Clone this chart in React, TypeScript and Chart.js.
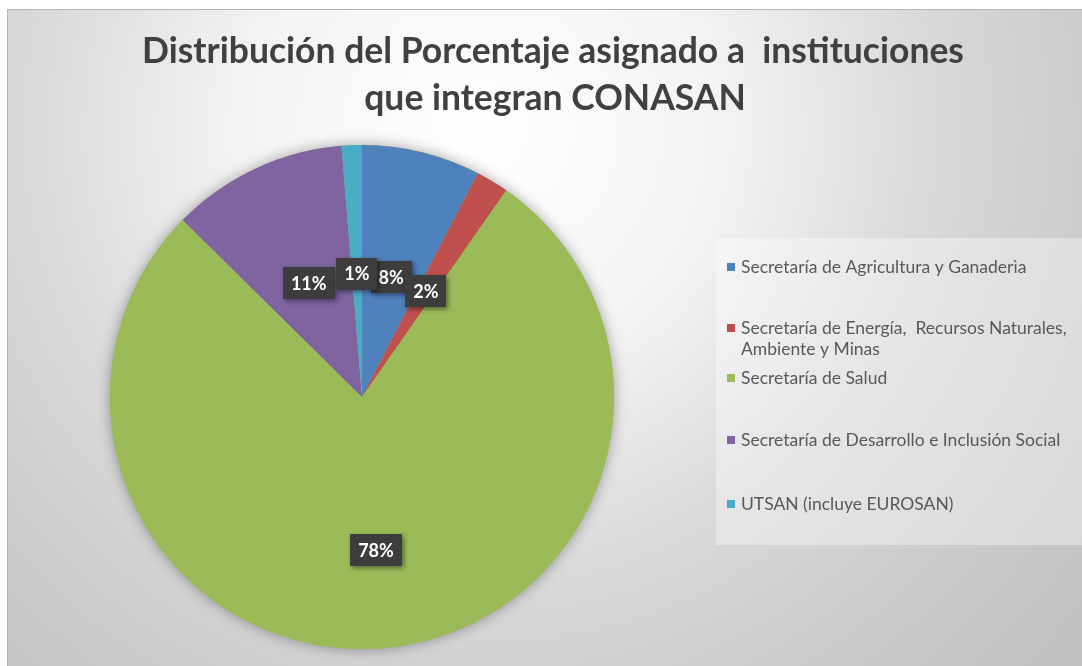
import React, { useEffect, useRef } from "react";
import { Chart, registerables } from "chart.js";

Chart.register(...registerables);

const titleLines = ["Distribución del Porcentaje asignado a  instituciones", "que integran CONASAN"];
const categories = [
  "Secretaría de Agricultura y Ganaderìa",
  "Secretaría de Energía,  Recursos Naturales, Ambiente y Minas",
  "Secretaría de Salud",
  "Secretaría de Desarrollo e Inclusión Social",
  "UTSAN (incluye EUROSAN)",
];
const values = [7.6, 2.1, 77.7, 11.3, 1.3];
const colors = ["#4F81BD", "#C0504D", "#9BBB59", "#8064A2", "#4BACC6"];

const W = 1082;
const H = 666;

function wrapText(ctx: CanvasRenderingContext2D, text: string, maxW: number): string[] {
  const words = text.split(" ");
  const lines: string[] = [];
  let cur = "";
  for (let i = 0; i < words.length; i++) {
    const test = cur === "" ? words[i] : cur + " " + words[i];
    if (ctx.measureText(test).width > maxW && cur !== "") {
      lines.push(cur);
      cur = words[i];
    } else {
      cur = test;
    }
  }
  if (cur !== "") lines.push(cur);
  return lines;
}

const decorPlugin = {
  id: "decor",
  beforeDraw(chart: any) {
    const ctx: CanvasRenderingContext2D = chart.ctx;
    ctx.save();
    ctx.fillStyle = "#ffffff";
    ctx.fillRect(0, 0, W, H);
    const g = ctx.createRadialGradient(480, 130, 0, 480, 130, 800);
    g.addColorStop(0, "#ffffff");
    g.addColorStop(0.3, "#f3f3f3");
    g.addColorStop(0.55, "#dadada");
    g.addColorStop(0.8, "#cacaca");
    g.addColorStop(1, "#c0c0c0");
    ctx.fillStyle = g;
    ctx.fillRect(7, 9, W - 7, H - 9);
    ctx.strokeStyle = "#b4b4b4";
    ctx.lineWidth = 1;
    ctx.beginPath();
    ctx.moveTo(7.5, H);
    ctx.lineTo(7.5, 9.5);
    ctx.lineTo(W, 9.5);
    ctx.stroke();
    // title
    ctx.fillStyle = "#404040";
    ctx.font = "bold 35.5px Lato, 'Open Sans', sans-serif";
    ctx.textAlign = "center";
    ctx.textBaseline = "alphabetic";
    ctx.fillText(titleLines[0], 553, 63);
    ctx.fillText(titleLines[1], 555, 110);
    ctx.restore();
  },
  beforeDatasetsDraw(chart: any) {
    const meta = chart.getDatasetMeta(0);
    const arc = meta.data[0];
    if (!arc) return;
    const ctx: CanvasRenderingContext2D = chart.ctx;
    ctx.save();
    ctx.shadowColor = "rgba(0,0,0,0.35)";
    ctx.shadowBlur = 14;
    ctx.fillStyle = "#9BBB59";
    ctx.beginPath();
    ctx.arc(arc.x, arc.y, arc.outerRadius, 0, Math.PI * 2);
    ctx.fill();
    ctx.restore();
  },
  afterDatasetsDraw(chart: any, _args: any, opts: any) {
    const ctx: CanvasRenderingContext2D = chart.ctx;
    const meta = chart.getDatasetMeta(0);
    const data: number[] = chart.data.datasets[0].data;
    const total = data.reduce((a, b) => a + b, 0);
    const radii: number[] = opts.labelRadius || [];
    ctx.save();
    ctx.font = "bold 18px Lato, 'Open Sans', sans-serif";
    ctx.textAlign = "center";
    ctx.textBaseline = "middle";
    meta.data.forEach((el: any, i: number) => {
      const mid = (el.startAngle + el.endAngle) / 2;
      const r = el.outerRadius * (radii[i] ?? 0.5);
      const x = el.x + Math.cos(mid) * r;
      const y = el.y + Math.sin(mid) * r;
      const txt = Math.round((data[i] / total) * 100) + "%";
      const tw = ctx.measureText(txt).width;
      const bw = tw + 16;
      const bh = 32;
      ctx.save();
      ctx.shadowColor = "rgba(0,0,0,0.45)";
      ctx.shadowBlur = 5;
      ctx.shadowOffsetX = 2;
      ctx.shadowOffsetY = 2;
      ctx.fillStyle = "#3d3d3d";
      ctx.fillRect(Math.round(x - bw / 2), Math.round(y - bh / 2), Math.round(bw), bh);
      ctx.restore();
      ctx.fillStyle = "#ffffff";
      ctx.fillText(txt, x, y + 1);
    });
    ctx.restore();
  },
  afterDraw(chart: any) {
    const ctx: CanvasRenderingContext2D = chart.ctx;
    ctx.save();
    ctx.fillStyle = "rgba(255,255,255,0.35)";
    ctx.fillRect(716, 238, W - 716, 307);
    ctx.font = "17.5px Lato, 'Open Sans', sans-serif";
    ctx.textAlign = "left";
    ctx.textBaseline = "middle";
    const ys = [267, 328, 378, 440, 504];
    categories.forEach((c, i) => {
      ctx.fillStyle = colors[i];
      ctx.fillRect(727, ys[i] - 4, 8, 8);
      ctx.fillStyle = "#595959";
      const lines = wrapText(ctx, c, 345);
      lines.forEach((ln, j) => ctx.fillText(ln, 741, ys[i] + j * 21));
    });
    ctx.restore();
  },
};

export default function App() {
  const ref = useRef<HTMLCanvasElement | null>(null);
  useEffect(() => {
    document.body.style.margin = "0";
    if (!ref.current) return;
    const chart = new Chart(ref.current, {
      type: "pie",
      data: {
        labels: categories,
        datasets: [
          {
            data: values,
            backgroundColor: colors,
            borderWidth: 0,
            hoverOffset: 0,
          },
        ],
      },
      options: {
        responsive: false,
        animation: false,
        devicePixelRatio: 1,
        layout: { padding: { left: 110, right: 468, top: 145, bottom: 17 } },
        plugins: {
          legend: { display: false },
          tooltip: { enabled: false },
          title: { display: false },
          decor: { labelRadius: [0.49, 0.49, 0.61, 0.5, 0.49] },
        } as any,
      },
      plugins: [decorPlugin],
    });
    return () => chart.destroy();
  }, []);
  return <canvas ref={ref} width={W} height={H} style={{ display: "block" }} />;
}
